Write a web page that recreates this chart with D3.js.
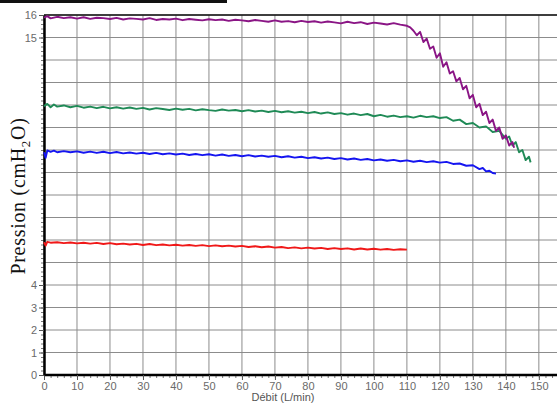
<!DOCTYPE html>
<html>
<head>
<meta charset="utf-8">
<script src="https://cdn.jsdelivr.net/npm/d3@7"></script>
<style>
  body { margin: 0; background: #fff; }
  svg { display: block; }
  .tick text { fill: #6a6a6a; font-family: "Liberation Sans", Arial, sans-serif; font-size: 11px; }
</style>
</head>
<body>
<div id="chart"></div>
<script>
// Values: [débit (L/min), pression (cmH2O)]
var purple = [[0,15.88],[1,15.95],[2,15.85],[4,15.92],[6,15.86],[8,15.9],[10,15.84],[12,15.9],[14,15.83],[16,15.88],
  [18,15.86],[20,15.82],[22,15.87],[24,15.8],[26,15.85],[28,15.83],[30,15.8],[32,15.86],[34,15.78],[36,15.82],
  [38,15.8],[40,15.84],[42,15.77],[44,15.82],[46,15.79],[48,15.76],[50,15.81],[52,15.77],[54,15.8],[56,15.74],
  [58,15.79],[60,15.76],[62,15.72],[64,15.78],[66,15.74],[68,15.7],[70,15.76],[72,15.7],[74,15.73],[76,15.68],
  [78,15.74],[80,15.69],[82,15.72],[84,15.66],[86,15.71],[88,15.67],[90,15.63],[92,15.7],[94,15.64],[96,15.68],
  [98,15.6],[100,15.66],[102,15.62],[104,15.58],[106,15.64],[108,15.57],[110,15.52],[111,15.45],[112,15.3],
  [113,15.1],[114,15.25],[115,14.8],[116,14.95],[117,14.5],[118,14.6],[119,14.1],[120,14.3],[121,13.7],[122,13.9],
  [123,13.4],[124,13.5],[125,13.05],[126,13.2],[127,12.7],[128,12.85],[129,12.3],[130,12.45],[131,11.9],[132,12.05],
  [133,11.55],[134,11.7],[135,11.2],[136,11.35],[137,10.85],[138,11.0],[139,10.5],[140,10.65],[141,10.2],[142,10.35],[142.5,10.1]];

var green = [[0,11.95],[1,12.05],[2,11.9],[3,12.02],[4,11.93],[6,11.98],[8,11.9],[10,11.96],[12,11.88],[14,11.93],
  [16,11.86],[18,11.92],[20,11.85],[22,11.9],[24,11.84],[26,11.89],[28,11.83],[30,11.87],[32,11.8],[34,11.86],
  [36,11.82],[38,11.78],[40,11.84],[42,11.79],[44,11.83],[46,11.76],[48,11.81],[50,11.77],[52,11.74],[54,11.8],
  [56,11.75],[58,11.78],[60,11.72],[62,11.77],[64,11.71],[66,11.75],[68,11.69],[70,11.74],[72,11.68],[74,11.72],
  [76,11.66],[78,11.7],[80,11.64],[82,11.69],[84,11.62],[86,11.67],[88,11.6],[90,11.64],[92,11.57],[94,11.62],
  [96,11.55],[98,11.6],[100,11.5],[102,11.56],[104,11.48],[106,11.53],[108,11.46],[110,11.5],[112,11.44],[114,11.52],
  [116,11.46],[118,11.5],[120,11.42],[122,11.46],[124,11.3],[126,11.35],[128,11.15],[130,11.2],[132,11.0],[134,11.05],
  [136,10.8],[138,10.85],[140,10.5],[141,10.6],[142,10.2],[143,10.35],[144,9.9],[145,10.0],[146,9.55],[147,9.7],[147.5,9.45]];

var blue = [[0,9.9],[0.5,9.65],[1,9.98],[2,9.92],[3,9.97],[4,9.9],[6,9.95],[8,9.9],[10,9.94],[12,9.88],[14,9.93],
  [16,9.87],[18,9.92],[20,9.86],[22,9.91],[24,9.85],[26,9.89],[28,9.84],[30,9.88],[32,9.82],[34,9.87],[36,9.81],
  [38,9.85],[40,9.8],[42,9.84],[44,9.78],[46,9.82],[48,9.77],[50,9.81],[52,9.75],[54,9.8],[56,9.74],[58,9.78],
  [60,9.72],[62,9.77],[64,9.71],[66,9.75],[68,9.7],[70,9.74],[72,9.68],[74,9.72],[76,9.66],[78,9.7],[80,9.64],
  [82,9.68],[84,9.62],[86,9.66],[88,9.6],[90,9.64],[92,9.58],[94,9.62],[96,9.56],[98,9.6],[100,9.54],[102,9.58],
  [104,9.52],[106,9.56],[108,9.5],[110,9.54],[112,9.48],[114,9.52],[116,9.46],[118,9.5],[120,9.44],[122,9.47],
  [124,9.38],[126,9.4],[128,9.3],[130,9.32],[132,9.15],[133,9.2],[134,9.05],[135,9.08],[136,8.98],[137,8.95]];

var red = [[0,5.9],[0.5,5.75],[1,5.92],[2,5.88],[4,5.9],[6,5.86],[8,5.89],[10,5.85],[12,5.88],[14,5.84],[16,5.87],
  [18,5.82],[20,5.86],[22,5.81],[24,5.84],[26,5.8],[28,5.83],[30,5.78],[32,5.82],[34,5.77],[36,5.8],[38,5.76],
  [40,5.79],[42,5.75],[44,5.78],[46,5.74],[48,5.77],[50,5.73],[52,5.76],[54,5.72],[56,5.75],[58,5.71],[60,5.74],
  [62,5.69],[64,5.72],[66,5.68],[68,5.71],[70,5.66],[72,5.69],[74,5.64],[76,5.67],[78,5.63],[80,5.66],[82,5.62],
  [84,5.65],[86,5.6],[88,5.64],[90,5.6],[92,5.63],[94,5.58],[96,5.62],[98,5.58],[100,5.61],[102,5.57],[104,5.6],
  [106,5.56],[108,5.59],[110,5.57]];

var xTicks = d3.range(0, 151, 10);
var yGrid = d3.range(0, 17, 1);
var yLabels = [0, 1, 2, 3, 4, 15, 16];

var series = [
  {data: red, color: "#f01818"},
  {data: blue, color: "#1515f0"},
  {data: green, color: "#1f8a56"},
  {data: purple, color: "#8a1585"}
];

var width = 557, height = 403;
var margin = {top: 15, right: 0, bottom: 28, left: 44};

var svg = d3.select("#chart").append("svg")
    .attr("width", width)
    .attr("height", height);

// stray black bar along the top of the scan
svg.append("rect").attr("x", 0).attr("y", 0).attr("width", 227).attr("height", 3).attr("fill", "#111");

var xScale = d3.scaleLinear().domain([0, 155.5]).range([margin.left, width - margin.right]);
var yScale = d3.scaleLinear().domain([0, 16]).range([height - margin.bottom, margin.top]);

// Grid
svg.append("g").selectAll("line.h").data(yGrid).enter().append("line")
    .attr("x1", xScale(0)).attr("x2", width)
    .attr("y1", function(d) { return yScale(d); })
    .attr("y2", function(d) { return yScale(d); })
    .attr("stroke", "#8c8c8c").attr("stroke-width", 1);
svg.append("g").selectAll("line.v").data(xTicks).enter().append("line")
    .attr("x1", function(d) { return xScale(d); })
    .attr("x2", function(d) { return xScale(d); })
    .attr("y1", yScale(0)).attr("y2", yScale(16))
    .attr("stroke", "#8c8c8c").attr("stroke-width", 1);

// top frame
svg.append("line")
    .attr("x1", xScale(0)).attr("x2", width)
    .attr("y1", yScale(16)).attr("y2", yScale(16))
    .attr("stroke", "#111").attr("stroke-width", 1.5);

// Minor ticks
var xAxisMinor = d3.axisBottom(xScale).tickValues(d3.range(0, 156, 2)).tickSize(3).tickFormat("");
var yAxisMinor = d3.axisLeft(yScale).tickValues(d3.range(0, 16.01, 0.2)).tickSize(3).tickFormat("");
svg.append("g").attr("transform", "translate(0," + yScale(0) + ")").call(xAxisMinor)
    .call(function(g) { g.select(".domain").remove(); g.selectAll("line").attr("stroke", "#777"); });
svg.append("g").attr("transform", "translate(" + xScale(0) + ",0)").call(yAxisMinor)
    .call(function(g) { g.select(".domain").remove(); g.selectAll("line").attr("stroke", "#777"); });

// Major axes
var xAxis = d3.axisBottom(xScale).tickValues(xTicks).tickSize(5).tickPadding(2).tickSizeOuter(0);
var yAxis = d3.axisLeft(yScale).tickValues(yLabels).tickSize(5).tickPadding(2).tickSizeOuter(0);
svg.append("g").attr("transform", "translate(0," + yScale(0) + ")").call(xAxis)
    .call(function(g) {
      g.select(".domain").attr("stroke", "#000").attr("stroke-width", 2.5)
        .attr("d", "M" + xScale(0) + ",0H" + width);
      g.selectAll("line").attr("stroke", "#555");
    });
svg.append("g").attr("transform", "translate(" + xScale(0) + ",0)").call(yAxis)
    .call(function(g) {
      g.select(".domain").attr("stroke", "#000").attr("stroke-width", 2.5);
      g.selectAll("line").attr("stroke", "#555");
    });

// Series
var line = d3.line()
    .x(function(d) { return xScale(d[0]); })
    .y(function(d) { return yScale(d[1]); });

svg.append("g").selectAll("path.s").data(series).enter().append("path")
    .attr("d", function(d) { return line(d.data); })
    .attr("fill", "none")
    .attr("stroke", function(d) { return d.color; })
    .attr("stroke-width", 1.9)
    .attr("stroke-linejoin", "round");

// Axis titles
svg.append("text")
    .attr("x", 283).attr("y", 401)
    .attr("text-anchor", "middle")
    .attr("fill", "#555")
    .style("font-family", "Liberation Sans, Arial, sans-serif")
    .style("font-size", "11px")
    .text("Débit (L/min)");

var yTitle = svg.append("text")
    .attr("transform", "translate(25,196) rotate(-90)")
    .attr("text-anchor", "middle")
    .attr("fill", "#111")
    .style("font-family", "Liberation Serif, Times New Roman, serif")
    .style("font-size", "20px")
    .style("letter-spacing", "0.7px");
yTitle.append("tspan").text("Pression (cmH");
yTitle.append("tspan").attr("dy", 5).style("font-size", "13px").text("2");
yTitle.append("tspan").attr("dy", -5).text("O)");
</script>
</body>
</html>
